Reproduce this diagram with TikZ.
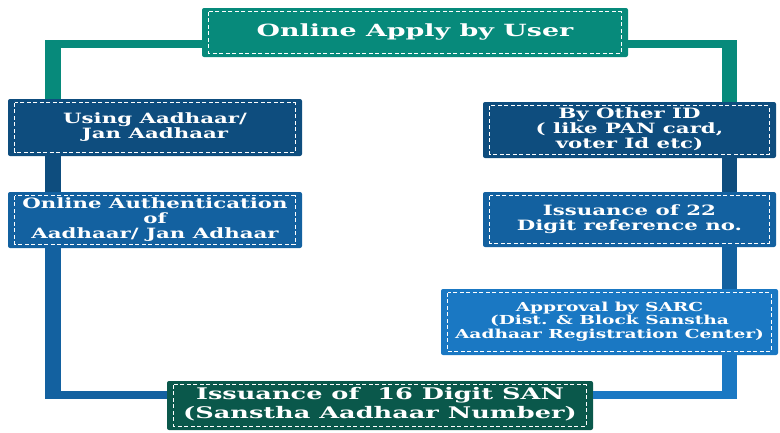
\documentclass[tikz,border=0pt]{standalone}
\usepackage{graphicx}
\usepackage{fontspec}
\setmainfont{DejaVu Serif}
\usetikzlibrary{calc}

% wide white bold text, lines centred
\newcommand{\widetext}[4][1.5]{\scalebox{#1}[1]{\fontsize{#2}{#3}\selectfont\bfseries
    \begin{tabular}{@{}c@{}}#4\end{tabular}}}

\begin{document}
\begin{tikzpicture}[x=1pt, y=-1pt,
    card/.style={rectangle, rounded corners=2pt, fill=#1, text=white, inner sep=0pt},
    inset/.style={white, line width=0.9pt, dash pattern=on 4pt off 2.5pt},
    vline/.style={line width=15.5pt, color=#1},
    hline/.style={line width=8pt, color=#1},
]
    % Colors
    \definecolor{applyteal}{HTML}{078A7B}
    \definecolor{sangreen}{HTML}{0A584B}
    \definecolor{darkblue}{HTML}{0E4D7E}
    \definecolor{midblue}{HTML}{1361A0}
    \definecolor{lightblue}{HTML}{1A78C3}

    \useasboundingbox (0,0) rectangle (780,432);

    % Boxes
    \node[card=applyteal, minimum width=426pt, minimum height=49pt] (apply) at (415,32.5)
        {\widetext[1.6]{16.8}{18}{Online Apply by User}};
    \node[card=darkblue,  minimum width=294pt, minimum height=57pt] (aadhaar) at (155,127.5)
        {\widetext{14.2}{14.5}{Using Aadhaar/\\ Jan Aadhaar}};
    \node[card=midblue,   minimum width=294pt, minimum height=56pt] (auth) at (155,220)
        {\widetext{14.2}{12.5}{Online Authentication\\ of\\ Aadhaar/ Jan Adhaar}};
    \node[card=darkblue,  minimum width=293pt, minimum height=56pt] (otherid) at (629.5,130)
        {\widetext{14.2}{14.5}{By Other ID\\ ( like PAN card,\\ voter Id etc)}};
    \node[card=midblue,   minimum width=293pt, minimum height=55pt] (refno) at (629.5,219.5)
        {\widetext{14.2}{14.5}{Issuance of 22\\ Digit reference no.}};
    \node[card=lightblue, minimum width=337pt, minimum height=66pt] (sarc) at (609.5,322)
        {\widetext{12.4}{13.5}{Approval by SARC\\ (Dist. \& Block Sanstha\\ Aadhaar Registration Center)}};
    \node[card=sangreen,  minimum width=426pt, minimum height=49pt] (san) at (380,405.5)
        {\widetext[1.6]{16}{19}{Issuance of\ \ 16 Digit SAN\\ (Sanstha Aadhaar Number)}};

    % Dashed frames inside the boxes
    \foreach \n in {apply, aadhaar, auth, otherid, refno, sarc, san}
        \draw[inset] ([shift={(7pt,-4pt)}]\n.north west) rectangle ([shift={(-7pt,4pt)}]\n.south east);

    % Corners of the frame
    \coordinate (tl) at (53,44);
    \coordinate (tr) at (729.5,44);
    \coordinate (bl) at (53,395);
    \coordinate (br) at (729.5,395);

    % Left branch
    \draw[hline=applyteal] (apply.west |- tl) -- ([xshift=-8pt]tl);
    \draw[vline=applyteal] ([yshift=4pt]tl) -- (aadhaar.north -| tl);
    \draw[vline=darkblue]  (aadhaar.south -| tl) -- (auth.north -| tl);
    \draw[vline=midblue]   (auth.south -| tl) -- ([yshift=-4pt]bl);
    \draw[hline=midblue]   ([xshift=-8pt]bl) -- (san.west |- bl);

    % Right branch
    \draw[hline=applyteal] (apply.east |- tr) -- ([xshift=7.5pt]tr);
    \draw[vline=applyteal] ([yshift=4pt]tr) -- (otherid.north -| tr);
    \draw[vline=darkblue]  (otherid.south -| tr) -- (refno.north -| tr);
    \draw[vline=midblue]   (refno.south -| tr) -- (sarc.north -| tr);
    \draw[vline=lightblue] (sarc.south -| tr) -- ([yshift=-4pt]br);
    \draw[hline=lightblue] ([xshift=7.5pt]br) -- (san.east |- br);
\end{tikzpicture}
\end{document}
